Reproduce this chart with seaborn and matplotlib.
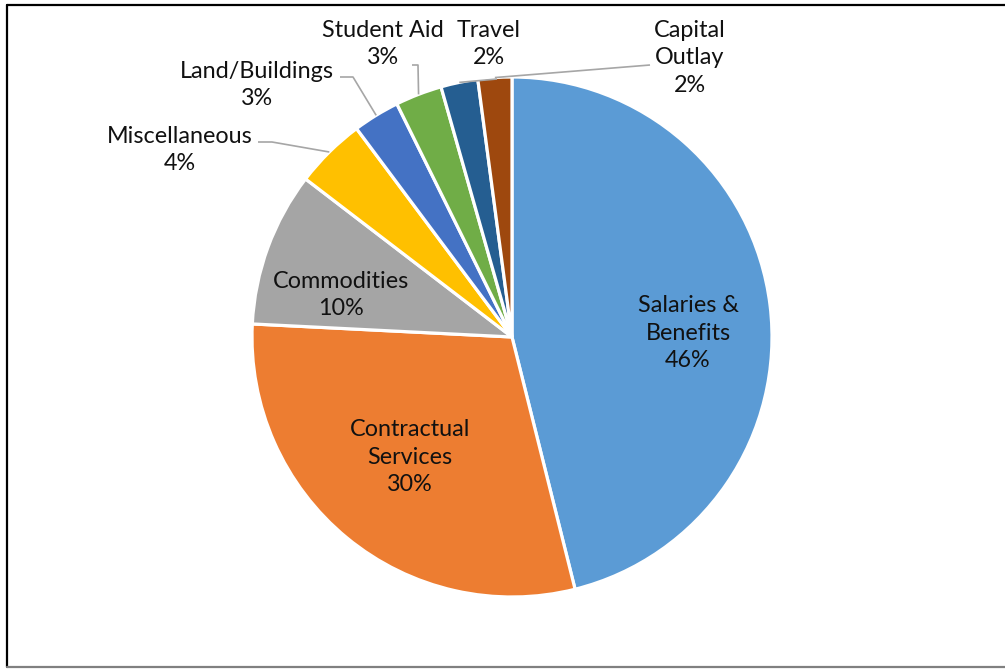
import matplotlib
matplotlib.use("Agg")
import matplotlib.pyplot as plt
import seaborn as sns
import numpy as np

# Budget shares by expenditure category (percent)
categories = ["Salaries &\nBenefits", "Contractual\nServices", "Commodities",
              "Miscellaneous", "Land/Buildings", "Student Aid", "Travel",
              "Capital\nOutlay"]
shares = [46.1, 29.7, 9.6, 4.4, 2.9, 2.9, 2.3, 2.1]
colors = ["#5B9BD5", "#ED7D31", "#A5A5A5", "#FFC000",
          "#4472C4", "#70AD47", "#255E91", "#9E480E"]

sns.set_theme(style="white")
plt.rcParams["font.family"] = ["Lato", "DejaVu Sans"]

W, H = 1005, 669
fig = plt.figure(figsize=(W / 100, H / 100), dpi=100)
ax = fig.add_axes([0, 0, 1, 1])

cx, cy, R = 512, H - 337, 260
wedges, _ = ax.pie(shares, colors=sns.color_palette(colors), startangle=90,
                   counterclock=False, center=(cx, cy), radius=R,
                   wedgeprops=dict(edgecolor="white", linewidth=2.3))
ax.set_xlim(0, W)
ax.set_ylim(0, H)
ax.set_aspect("equal")
ax.axis("off")


def px(x, y):
    return x, H - y


def anchor(w):
    mid = np.deg2rad((w.theta1 + w.theta2) / 2)
    return cx + R * np.cos(mid), cy + R * np.sin(mid)


# label centres (pixels from top-left) and leader-line waypoints
label_pos = [(688, 333), (410, 457), (341, 295), (180, 150),
             (257, 85), (383, 44), (489, 44), (690, 58)]
leaders = {3: [(258, 142), (272, 142)],
           4: [(340, 77), (353, 77)],
           5: [(412, 65), (418, 65)],
           6: [(497, 79)],
           7: [(650, 65)]}

fs = 16.8
for i, (name, val) in enumerate(zip(categories, shares)):
    x, y = px(*label_pos[i])
    ax.text(x, y, f"{name}\n{round(val)}%", ha="center", va="center",
            fontsize=fs, color="#111111", linespacing=1.38)
    if i in leaders:
        ax0, ay0 = anchor(wedges[i])
        pts = [px(*p) for p in leaders[i]] + [(ax0, ay0)]
        xs, ys = zip(*pts)
        ax.plot(xs, ys, color="#A6A6A6", lw=1.2, solid_capstyle="butt")

# border around the chart area
ax.plot([7, W], [H - 5, H - 5], color="black", lw=1.6, clip_on=False)
ax.plot([7, 7], [H - 5, H - 667], color="black", lw=1.6, clip_on=False)
ax.plot([7, W], [H - 667, H - 667], color="#808080", lw=1.6, clip_on=False)

fig.savefig("out.png", dpi=100, facecolor="white")
